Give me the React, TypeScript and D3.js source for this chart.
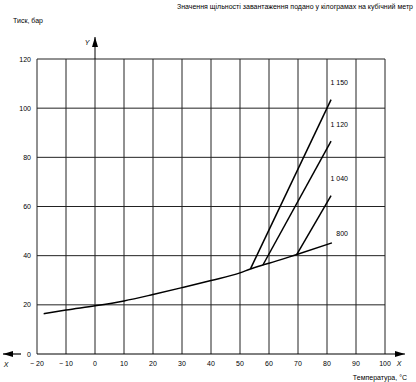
import React from "react";
import * as d3 from "d3";

const xTicks = [-20, -10, 0, 10, 20, 30, 40, 50, 60, 70, 80, 90, 100];
const xTickLabels = ["− 20", "− 10", "0", "10", "20", "30", "40", "50", "60", "70", "80", "90", "100"];
const yTicks = [0, 20, 40, 60, 80, 100, 120];

// base curve (800 kg/m3)
const baseX = [-17.7, -10, 0, 10, 20, 30, 40, 50, 53.6, 57.9, 60, 69.6, 81.7];
const baseY = [16.4, 17.9, 19.6, 21.6, 24.2, 27.0, 29.9, 33.0, 34.6, 36.2, 36.9, 40.5, 45.2];

const branchNames = ["1 150", "1 120", "1 040"];
const branchStartX = [53.6, 57.9, 69.6];
const branchStartY = [34.6, 36.2, 40.5];
const branchEndX = [81.4, 81.4, 81.4];
const branchEndY = [103.5, 86.6, 64.4];
const labelX = [81.2, 81.2, 81.2, 83.2];
const labelY = [109.5, 92.5, 70.5, 48.2];
const labelNames = ["1 150", "1 120", "1 040", "800"];

export default function App() {
  const W = 416, H = 382;
  const x = d3.scaleLinear().domain([-20, 100]).range([37, 385]);
  const y = d3.scaleLinear().domain([0, 120]).range([354, 59]);
  const line = d3.line<[number, number]>().x(d => x(d[0])).y(d => y(d[1])).curve(d3.curveMonotoneX);
  const basePts: [number, number][] = baseX.map((v, i) => [v, baseY[i]]);
  const font = "Liberation Sans, Arial, sans-serif";
  const grid = "#222";
  return (
    <div style={{ position: "absolute", left: 0, top: 0 }}>
      <svg width={W} height={H} style={{ display: "block", background: "#fff" }} fontFamily={font}>
        <defs>
          <marker id="arr" viewBox="0 0 10 6" refX="10" refY="3" markerWidth="10" markerHeight="6" markerUnits="userSpaceOnUse" orient="auto">
            <path d="M0,0 L10,3 L0,6 Z" fill="#000" />
          </marker>
        </defs>
        <text x={413} y={8.5} fontSize={7} textAnchor="end" fill="#000">Значення щільності завантаження подано у кілограмах на кубічний метр</text>
        <text x={13} y={23} fontSize={7} fill="#000">Тиск, бар</text>
        {xTicks.map(t => (
          <line key={"v" + t} x1={x(t)} x2={x(t)} y1={y(120)} y2={y(0)} stroke={grid} strokeWidth={1} />
        ))}
        {yTicks.filter(t => t > 0).map(t => (
          <line key={"h" + t} x1={x(-20)} x2={x(100)} y1={y(t)} y2={y(t)} stroke={grid} strokeWidth={1} />
        ))}
        <line x1={x(-20)} x2={405} y1={y(0)} y2={y(0)} stroke="#000" strokeWidth={1} markerEnd="url(#arr)" />
        <line x1={21} x2={3} y1={y(0)} y2={y(0)} stroke="#000" strokeWidth={1.2} markerEnd="url(#arr)" />
        <line x1={x(0)} x2={x(0)} y1={y(120)} y2={37} stroke="#000" strokeWidth={1} markerEnd="url(#arr)" />
        <text x={87} y={44.5} fontSize={7} fontStyle="italic" textAnchor="middle">Y</text>
        <text x={6} y={367} fontSize={7} fontStyle="italic" textAnchor="middle">X</text>
        <text x={399} y={366} fontSize={7} fontStyle="italic" textAnchor="middle">X</text>
        {yTicks.map(t => (
          <text key={"yl" + t} x={31} y={y(t) + 2.5} fontSize={7} textAnchor="end">{t}</text>
        ))}
        {xTicks.map((t, i) => (
          <text key={"xl" + t} x={x(t)} y={366} fontSize={7} textAnchor="middle">{xTickLabels[i]}</text>
        ))}
        <text x={407} y={380} fontSize={7} textAnchor="end">Температура, °С</text>
        <path d={line(basePts) || ""} fill="none" stroke="#000" strokeWidth={1.5} />
        {branchNames.map((n, i) => (
          <line key={n} x1={x(branchStartX[i])} y1={y(branchStartY[i])} x2={x(branchEndX[i])} y2={y(branchEndY[i])} stroke="#000" strokeWidth={1.5} />
        ))}
        {labelNames.map((n, i) => (
          <text key={"lb" + n} x={x(labelX[i])} y={y(labelY[i])} fontSize={7}>{n}</text>
        ))}
      </svg>
    </div>
  );
}
